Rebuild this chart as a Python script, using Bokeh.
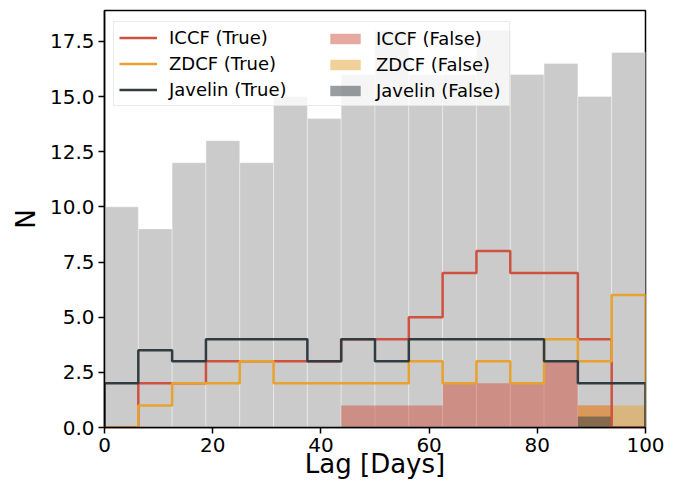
from bokeh.plotting import figure
from bokeh.models import (Range1d, FixedTicker, NumeralTickFormatter, Legend,
                          LegendItem)
from bokeh.embed import file_html
from bokeh.resources import INLINE

# Histogram bins (lag in days)
bin_edges = [0, 6.25, 12.5, 18.75, 25, 31.25, 37.5, 43.75, 50,
             56.25, 62.5, 68.75, 75, 81.25, 87.5, 93.75, 100]

# Counts per bin
all_counts = [10, 9, 12, 13, 12, 15, 14, 16, 18, 16, 16, 18, 16, 16.5, 15, 17]
iccf_true = [0, 2, 2, 3, 3, 3, 3, 4, 4, 5, 7, 8, 7, 7, 4, 0]
zdcf_true = [0, 1, 2, 2, 3, 2, 2, 2, 2, 3, 2, 3, 2, 4, 3, 6]
javelin_true = [2, 3.5, 3, 4, 4, 4, 3, 4, 3, 4, 4, 4, 4, 3, 2, 2]
iccf_false = [0, 0, 0, 0, 0, 0, 0, 1, 1, 1, 2, 2, 2, 3, 1, 0]
zdcf_false = [0, 0, 0, 0, 0, 0, 0, 0, 0, 0, 0, 0, 0, 0, 1, 1]
javelin_false = [0, 0, 0, 0, 0, 0, 0, 0, 0, 0, 0, 0, 0, 0, 0.5, 0]

x_ticks = [0, 20, 40, 60, 80, 100]
y_ticks = [0, 2.5, 5, 7.5, 10, 12.5, 15, 17.5]

RED = "#cf513f"
ORANGE = "#e8a22f"
DARK = "#323c40"
FONT = "DejaVu Sans"

p = figure(width=685, height=491, output_backend="svg", toolbar_location=None,
           x_range=Range1d(0, 100), y_range=Range1d(0, 18.9),
           min_border_left=104, min_border_right=40,
           min_border_top=10, min_border_bottom=64)
p.background_fill_color = "white"
p.border_fill_color = "white"
p.xgrid.visible = False
p.ygrid.visible = False
p.outline_line_color = "black"
p.outline_line_width = 1.5
p.outline_line_alpha = 1.0

lefts = bin_edges[:-1]
rights = bin_edges[1:]

# background: all objects
p.quad(left=lefts, right=rights, bottom=0, top=all_counts,
       fill_color="#cbcbcb", line_color="white", line_alpha=0.35, line_width=1)

# filled histograms (False)
r_if = p.quad(left=lefts, right=rights, bottom=0, top=iccf_false,
              fill_color=RED, fill_alpha=0.5, line_color=None)
r_zf = p.quad(left=lefts, right=rights, bottom=0, top=zdcf_false,
              fill_color=ORANGE, fill_alpha=0.5, line_color=None)
r_jf = p.quad(left=lefts, right=rights, bottom=0, top=javelin_false,
              fill_color=DARK, fill_alpha=0.5, line_color=None)


def step_outline(edges, counts):
    xs = [edges[0]]
    ys = [0]
    for i, c in enumerate(counts):
        xs += [edges[i], edges[i + 1]]
        ys += [c, c]
    xs.append(edges[-1])
    ys.append(0)
    return xs, ys


# step histograms (True)
xs, ys = step_outline(bin_edges, iccf_true)
r_it = p.line(xs, ys, line_color=RED, line_width=2.5)
xs, ys = step_outline(bin_edges, zdcf_true)
r_zt = p.line(xs, ys, line_color=ORANGE, line_width=2.5)
xs, ys = step_outline(bin_edges, javelin_true)
r_jt = p.line(xs, ys, line_color=DARK, line_width=2.5)

# axes
for ax in (p.xaxis[0], p.yaxis[0]):
    ax.axis_line_color = "black"
    ax.axis_line_width = 1.5
    ax.major_tick_line_color = "black"
    ax.major_tick_line_width = 1.5
    ax.major_tick_out = 6
    ax.major_tick_in = 0
    ax.minor_tick_line_color = None
    ax.major_label_text_font = FONT
    ax.major_label_text_font_size = "20px"
    ax.major_label_text_color = "black"
    ax.major_label_standoff = 4
    ax.axis_label_text_font = FONT
    ax.axis_label_text_font_size = "26px"
    ax.axis_label_text_font_style = "normal"
    ax.axis_label_text_color = "black"

p.xaxis.axis_label_standoff = -6
p.yaxis.axis_label_standoff = 6
p.xaxis.ticker = FixedTicker(ticks=x_ticks)
p.yaxis.ticker = FixedTicker(ticks=y_ticks)
p.yaxis.formatter = NumeralTickFormatter(format="0.0")
p.xaxis.axis_label = "Lag [Days]"
p.yaxis.axis_label = "N"

common = dict(label_text_font=FONT, label_text_font_size="18px",
              label_text_color="black", glyph_width=38, glyph_height=13,
              label_standoff=12, padding=5, spacing=5, margin=0,
              label_height=21)

leg1 = Legend(items=[LegendItem(label="ICCF (True)", renderers=[r_it]),
                     LegendItem(label="ZDCF (True)", renderers=[r_zt]),
                     LegendItem(label="Javelin (True)", renderers=[r_jt])],
              location=(9, 321), label_width=335,
              background_fill_color="white", background_fill_alpha=0.8,
              border_line_color="#d6d6d6", border_line_width=1, **common)
leg2 = Legend(items=[LegendItem(label="ICCF (False)", renderers=[r_if]),
                     LegendItem(label="ZDCF (False)", renderers=[r_zf]),
                     LegendItem(label="Javelin (False)", renderers=[r_jf])],
              location=(217, 321), label_width=20,
              background_fill_alpha=0, border_line_alpha=0, **common)
p.add_layout(leg1, "center")
p.add_layout(leg2, "center")

open("out.html", "w").write(file_html(p, INLINE))
